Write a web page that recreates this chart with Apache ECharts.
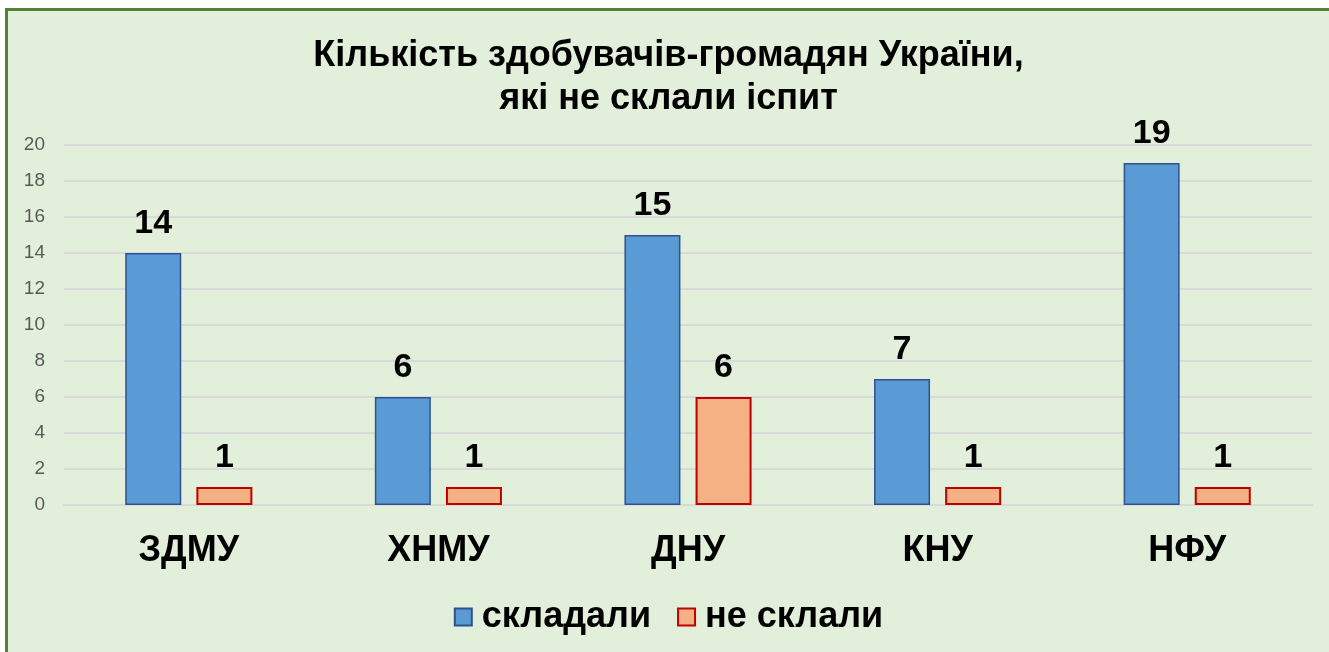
<!DOCTYPE html>
<html>
<head>
<meta charset="utf-8">
<title>Кількість здобувачів-громадян України</title>
<script src="https://cdn.jsdelivr.net/npm/echarts@6/dist/echarts.min.js"></script>
<style>
  html, body { margin: 0; padding: 0; background: #fff; }
  #wrap {
    position: absolute; left: 5px; top: 8px; right: 0; bottom: 0;
    background: #E2EFDA;
    border-left: 3px solid #548235;
    border-top: 3px solid #548235;
  }
  #chart { width: 100%; height: 100%; }
</style>
</head>
<body>
<div id="wrap"><div id="chart"></div></div>
<script>
// дані з діаграми
var universities = ['ЗДМУ', 'ХНМУ', 'ДНУ', 'КНУ', 'НФУ']
var tookExam = [14, 6, 15, 7, 19]
var failedExam = [1, 1, 6, 1, 1]
var seriesNames = ['складали', 'не склали']

var font = "'Liberation Sans', Arial, sans-serif"

var chart = echarts.init(document.getElementById('chart'))

var option = {
  animation: false,
  title: {
    text: 'Кількість здобувачів-громадян України,\nякі не склали іспит',
    left: 'center',
    top: 19,
    textStyle: {
      fontFamily: font,
      fontSize: 36,
      fontWeight: 'bold',
      color: '#000',
      lineHeight: 43
    }
  },
  legend: {
    bottom: 12,
    left: 'center',
    icon: 'rect',
    itemWidth: 17,
    itemHeight: 17,
    itemGap: 26,
    data: [
      { name: seriesNames[0], itemStyle: { color: '#5B9BD5', borderColor: '#2F528F', borderWidth: 2 } },
      { name: seriesNames[1], itemStyle: { color: '#F4B183', borderColor: '#C00000', borderWidth: 2 } }
    ],
    textStyle: {
      fontFamily: font,
      fontSize: 36,
      fontWeight: 'bold',
      color: '#000',
      padding: [0, 0, 0, 5]
    }
  },
  grid: {
    left: 56,
    right: 17,
    top: 134,
    bottom: 147
  },
  xAxis: {
    type: 'category',
    data: universities,
    axisLine: { show: true, lineStyle: { color: '#D9D9D9', width: 2 } },
    axisTick: { show: false },
    axisLabel: {
      margin: 28,
      fontFamily: font,
      fontSize: 36,
      fontWeight: 'bold',
      color: '#000'
    }
  },
  yAxis: {
    type: 'value',
    min: 0,
    max: 20,
    interval: 2,
    axisLine: { show: false },
    axisTick: { show: false },
    splitLine: { lineStyle: { color: '#D9D9D9', width: 2 } },
    axisLabel: {
      margin: 19,
      fontFamily: font,
      fontSize: 19,
      color: '#595959'
    }
  },
  series: [
    {
      name: seriesNames[0],
      type: 'bar',
      data: tookExam,
      barWidth: 56,
      barGap: '27%',
      itemStyle: { color: '#5B9BD5', borderColor: '#2F528F', borderWidth: 1.5 },
      label: {
        show: true,
        position: 'top',
        distance: 12,
        fontFamily: font,
        fontSize: 34,
        fontWeight: 'bold',
        color: '#000'
      }
    },
    {
      name: seriesNames[1],
      type: 'bar',
      data: failedExam,
      barWidth: 56,
      itemStyle: { color: '#F4B183', borderColor: '#C00000', borderWidth: 2 },
      label: {
        show: true,
        position: 'top',
        distance: 12,
        fontFamily: font,
        fontSize: 34,
        fontWeight: 'bold',
        color: '#000'
      }
    }
  ]
}

chart.setOption(option)
</script>
</body>
</html>
